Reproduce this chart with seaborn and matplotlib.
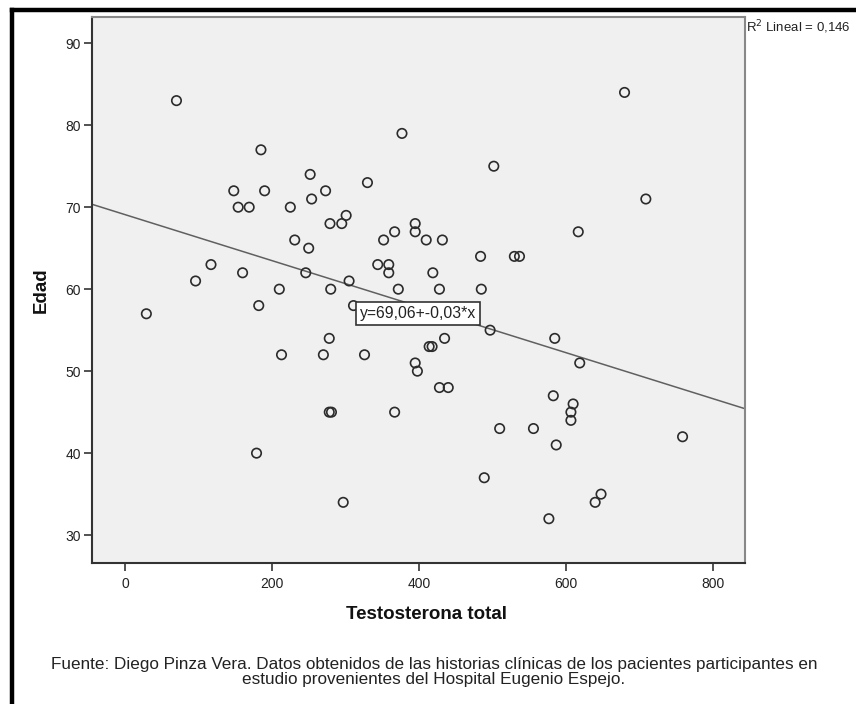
import matplotlib
matplotlib.use("Agg")
import matplotlib.pyplot as plt
from matplotlib.lines import Line2D
import seaborn as sns
import pandas as pd
import numpy as np

testosterona = [29, 70, 96, 117, 148, 154, 169, 160, 182, 185, 190, 179, 210, 213, 225, 231,
                246, 250, 252, 254, 270, 273, 278, 278, 281, 279, 280, 295, 297, 301, 305, 311,
                326, 330, 344, 352, 359, 359, 367, 367, 372, 377, 395, 395, 395, 398, 410, 414,
                418, 419, 428, 428, 432, 435, 440, 484, 485, 489, 497, 502, 510, 530, 537, 556,
                577, 583, 585, 587, 607, 607, 610, 617, 619, 640, 648, 680, 709, 759]
edad = [57, 83, 61, 63, 72, 70, 70, 62, 58, 77, 72, 40, 60, 52, 70, 66,
        62, 65, 74, 71, 52, 72, 54, 45, 45, 68, 60, 68, 34, 69, 61, 58,
        52, 73, 63, 66, 63, 62, 67, 45, 60, 79, 68, 67, 51, 50, 66, 53,
        53, 62, 60, 48, 66, 54, 48, 64, 60, 37, 55, 75, 43, 64, 64, 43,
        32, 47, 54, 41, 45, 44, 46, 67, 51, 34, 35, 84, 71, 42]

x_ticks = [0, 200, 400, 600, 800]
y_ticks = [30, 40, 50, 60, 70, 80, 90]
eq_label = "y=69,06+-0,03*x"
r2_label = "R$^2$ Lineal = 0,146"
x_title = "Testosterona total"
y_title = "Edad"
fuente = ("Fuente: Diego Pinza Vera. Datos obtenidos de las historias clínicas de los pacientes participantes en\n"
          "estudio provenientes del Hospital Eugenio Espejo.")

df = pd.DataFrame({"Testosterona total": testosterona, "Edad": edad})

sns.set_style("white")
fam = ["Liberation Sans Narrow", "Liberation Sans", "DejaVu Sans"]
plt.rcParams["font.family"] = fam

fig = plt.figure(figsize=(8.56, 7.04), dpi=100)
fig.patch.set_facecolor("white")
ax = fig.add_axes([92 / 856, 1 - 563 / 704, (745 - 92) / 856, (563 - 17) / 704])
ax.set_facecolor("#F0F0F0")
ax.set_xlim(-45, 844)
ax.set_ylim(26.6, 93.2)

sns.regplot(data=df, x="Testosterona total", y="Edad", ax=ax, scatter=False, ci=None,
            truncate=False, line_kws=dict(color="#606060", lw=1.1, zorder=2))
sns.scatterplot(data=df, x="Testosterona total", y="Edad", ax=ax, marker="o", s=46,
                facecolor="none", edgecolor="#2b2b2b", linewidth=1.2, zorder=3)

ax.set_xlim(-45, 844)
ax.set_ylim(26.6, 93.2)
ax.set_xticks(x_ticks)
ax.set_yticks(y_ticks)
ax.tick_params(axis="both", which="major", bottom=True, left=True, top=False, right=False,
               direction="out", length=6, width=1.2, color="#333333",
               labelsize=10, labelcolor="#222222", pad=2)
ax.tick_params(axis="x", pad=4)
for s in ["left", "bottom"]:
    ax.spines[s].set_color("#333333")
    ax.spines[s].set_linewidth(1.5)
for s in ["top", "right"]:
    ax.spines[s].set_color("#888888")
    ax.spines[s].set_linewidth(1.5)

ax.set_xlabel(x_title, fontsize=13.5, fontweight="bold", color="#111111")
ax.set_ylabel(y_title, fontsize=13.5, fontweight="bold", labelpad=11, color="#111111")
ax.xaxis.set_label_coords(0.512, -0.078)

ax.text(399, 57.0, eq_label, ha="center", va="center", fontsize=11.3, color="#222222", zorder=5,
        bbox=dict(boxstyle="square,pad=0.25", facecolor="white", edgecolor="#333333", lw=1.2))

fig.text(746 / 856, 1 - 27 / 704, r2_label, ha="left", va="center", fontsize=9.5,
         color="#222222", family=["Liberation Sans", "DejaVu Sans"])

fig.text(434 / 856, 1 - 672 / 704, fuente, ha="center", va="center", fontsize=12.3,
         color="#222222", linespacing=0.95)

fig.add_artist(Line2D([12 / 856, 12 / 856], [0, 1 - 10 / 704], transform=fig.transFigure,
                      color="black", lw=3.2, solid_capstyle="projecting"))
fig.add_artist(Line2D([12 / 856, 1], [1 - 10 / 704, 1 - 10 / 704], transform=fig.transFigure,
                      color="black", lw=3.2, solid_capstyle="projecting"))

fig.savefig("out.png", dpi=100, facecolor="white")
